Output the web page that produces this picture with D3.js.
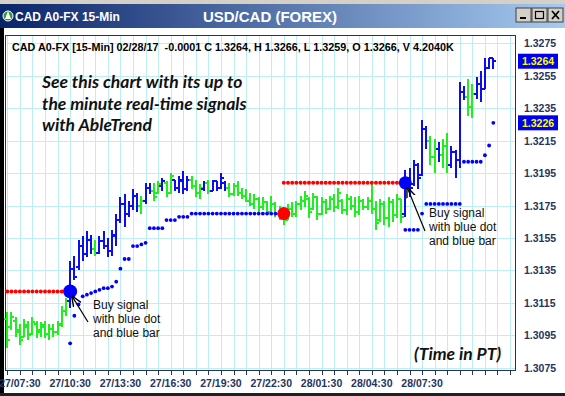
<!DOCTYPE html>
<html>
<head>
<meta charset="utf-8">
<script src="https://cdn.jsdelivr.net/npm/d3@7"></script>
<style>
  html, body { margin: 0; padding: 0; background: #fff; }
  svg { display: block; font-family: "Liberation Sans", Arial, sans-serif; }
</style>
</head>
<body>
<svg id="chart" width="565" height="396"></svg>
<script>
// 15-min USD/CAD bars, index 0 = 27/06:45
const opens = [
  1.3105, 1.3100, 1.3104, 1.3098, 1.3094, 1.3100, 1.3096, 1.3102, 1.3097, 1.3100,
  1.3096, 1.3099, 1.3097, 1.3101, 1.3110, 1.3116, 1.3136, 1.3137, 1.3150, 1.3145,
  1.3154, 1.3148, 1.3146, 1.3153, 1.3150, 1.3147, 1.3156, 1.3166, 1.3176, 1.3170,
  1.3175, 1.3181, 1.3175, 1.3178, 1.3186, 1.3184, 1.3183, 1.3187, 1.3189, 1.3183,
  1.3191, 1.3186, 1.3190, 1.3185, 1.3191, 1.3187, 1.3183, 1.3185, 1.3189, 1.3184,
  1.3190, 1.3186, 1.3189, 1.3186, 1.3182, 1.3187, 1.3183, 1.3181, 1.3178, 1.3176,
  1.3179, 1.3174, 1.3177, 1.3171, 1.3176, 1.3170, 1.3168, 1.3166, 1.3173, 1.3170,
  1.3176, 1.3178, 1.3179, 1.3173, 1.3180, 1.3170, 1.3177, 1.3173, 1.3179, 1.3174,
  1.3178, 1.3172, 1.3179, 1.3175, 1.3171, 1.3178, 1.3174, 1.3178, 1.3173, 1.3166,
  1.3176, 1.3167, 1.3177, 1.3169, 1.3179, 1.3170, 1.3192, 1.3188, 1.3200, 1.3194,
  1.3222, 1.3215, 1.3205, 1.3210, 1.3206, 1.3212, 1.3200, 1.3208, 1.3203, 1.3245,
  1.3242, 1.3236, 1.3244, 1.3250, 1.3247, 1.3260, 1.3266
];
const highs = [
  1.3109, 1.3109, 1.3106, 1.3102, 1.3105, 1.3104, 1.3106, 1.3104, 1.3103, 1.3104,
  1.3102, 1.3102, 1.3104, 1.3113, 1.3118, 1.3141, 1.3144, 1.3154, 1.3156, 1.3159,
  1.3157, 1.3154, 1.3156, 1.3159, 1.3155, 1.3160, 1.3170, 1.3180, 1.3182, 1.3178,
  1.3185, 1.3183, 1.3181, 1.3189, 1.3189, 1.3189, 1.3190, 1.3192, 1.3190, 1.3195,
  1.3191, 1.3193, 1.3196, 1.3193, 1.3193, 1.3191, 1.3188, 1.3190, 1.3191, 1.3191,
  1.3190, 1.3195, 1.3190, 1.3189, 1.3189, 1.3190, 1.3186, 1.3185, 1.3183, 1.3182,
  1.3180, 1.3180, 1.3178, 1.3181, 1.3177, 1.3175, 1.3174, 1.3176, 1.3177, 1.3178,
  1.3181, 1.3184, 1.3180, 1.3183, 1.3181, 1.3180, 1.3179, 1.3181, 1.3182, 1.3186,
  1.3179, 1.3182, 1.3181, 1.3180, 1.3181, 1.3179, 1.3180, 1.3188, 1.3178, 1.3179,
  1.3178, 1.3180, 1.3179, 1.3182, 1.3179, 1.3197, 1.3198, 1.3203, 1.3201, 1.3228,
  1.3224, 1.3218, 1.3216, 1.3214, 1.3216, 1.3220, 1.3212, 1.3209, 1.3251, 1.3249,
  1.3253, 1.3250, 1.3254, 1.3258, 1.3266, 1.3266, 1.3266
];
const lows = [
  1.3087, 1.3098, 1.3094, 1.3089, 1.3094, 1.3092, 1.3095, 1.3093, 1.3094, 1.3093,
  1.3092, 1.3094, 1.3095, 1.3100, 1.3107, 1.3112, 1.3129, 1.3135, 1.3141, 1.3143,
  1.3145, 1.3144, 1.3145, 1.3148, 1.3143, 1.3144, 1.3150, 1.3164, 1.3162, 1.3168,
  1.3172, 1.3171, 1.3170, 1.3176, 1.3182, 1.3178, 1.3182, 1.3184, 1.3180, 1.3182,
  1.3184, 1.3183, 1.3182, 1.3184, 1.3185, 1.3180, 1.3179, 1.3184, 1.3182, 1.3184,
  1.3184, 1.3185, 1.3184, 1.3180, 1.3181, 1.3181, 1.3179, 1.3177, 1.3175, 1.3173,
  1.3171, 1.3172, 1.3169, 1.3171, 1.3168, 1.3166, 1.3163, 1.3166, 1.3168, 1.3168,
  1.3172, 1.3174, 1.3167, 1.3172, 1.3166, 1.3169, 1.3170, 1.3172, 1.3171, 1.3173,
  1.3170, 1.3169, 1.3172, 1.3168, 1.3169, 1.3172, 1.3172, 1.3170, 1.3160, 1.3165,
  1.3163, 1.3162, 1.3165, 1.3167, 1.3164, 1.3168, 1.3180, 1.3187, 1.3185, 1.3193,
  1.3210, 1.3200, 1.3195, 1.3202, 1.3198, 1.3195, 1.3198, 1.3192, 1.3198, 1.3240,
  1.3230, 1.3229, 1.3241, 1.3239, 1.3247, 1.3259, 1.3259
];
const closes = [
  1.3092, 1.3106, 1.3097, 1.3092, 1.3101, 1.3095, 1.3103, 1.3098, 1.3101, 1.3096,
  1.3099, 1.3097, 1.3102, 1.3110, 1.3116, 1.3136, 1.3131, 1.3150, 1.3145, 1.3154,
  1.3148, 1.3146, 1.3153, 1.3150, 1.3147, 1.3157, 1.3166, 1.3176, 1.3170, 1.3175,
  1.3181, 1.3175, 1.3178, 1.3186, 1.3184, 1.3180, 1.3188, 1.3190, 1.3183, 1.3193,
  1.3186, 1.3191, 1.3185, 1.3191, 1.3187, 1.3183, 1.3186, 1.3189, 1.3184, 1.3190,
  1.3186, 1.3192, 1.3186, 1.3182, 1.3187, 1.3183, 1.3181, 1.3178, 1.3176, 1.3179,
  1.3174, 1.3177, 1.3171, 1.3176, 1.3170, 1.3168, 1.3166, 1.3173, 1.3170, 1.3176,
  1.3178, 1.3181, 1.3171, 1.3180, 1.3170, 1.3177, 1.3173, 1.3179, 1.3174, 1.3183,
  1.3172, 1.3179, 1.3175, 1.3171, 1.3178, 1.3174, 1.3178, 1.3173, 1.3164, 1.3176,
  1.3167, 1.3177, 1.3169, 1.3179, 1.3168, 1.3192, 1.3186, 1.3200, 1.3192, 1.3222,
  1.3215, 1.3205, 1.3210, 1.3206, 1.3212, 1.3200, 1.3208, 1.3203, 1.3245, 1.3242,
  1.3236, 1.3244, 1.3250, 1.3247, 1.3260, 1.3266, 1.3264
];
// b = blue (up) bar, g = green (neutral) bar
const barColors = (
  "ggggggggggggggg" +          // 0-14
  "bbbbbbgbbbbbbbbbb" +        // 15-31
  "gbbggbggbbbbgggbgbbbb" +    // 32-52
  "gggggggggg" + "gggggggggg" + "gggggggggg" + "gggggggggg" + "gg" + // 53-94
  "bbbbbbggbggbbbbggbbbbb"     // 95-116
).split("");

// AbleTrend stop dots: [bar, price]
const blueStops = [
  [15, 1.3090], [16, 1.3107], [17, 1.3114], [18, 1.3119], [19, 1.3120], [20, 1.3121],
  [21, 1.3122], [22, 1.3123], [23, 1.3124], [24, 1.3124], [25, 1.3125], [26, 1.3128],
  [27, 1.3136], [28, 1.3142], [29, 1.3142], [30, 1.3150], [31, 1.3150], [32, 1.3151],
  [33, 1.3152], [34, 1.3161], [35, 1.3161], [36, 1.3161], [37, 1.3161], [38, 1.3166],
  [39, 1.3166], [40, 1.3166], [41, 1.3168], [42, 1.3168], [43, 1.3168], [44, 1.3170],
  [45, 1.3170], [46, 1.3170], [47, 1.3170], [48, 1.3170], [49, 1.3170], [50, 1.3170],
  [51, 1.3170], [52, 1.3170], [53, 1.3170], [54, 1.3170], [55, 1.3170], [56, 1.3170],
  [57, 1.3170], [58, 1.3170], [59, 1.3170], [60, 1.3170], [61, 1.3170], [62, 1.3170],
  [63, 1.3170], [64, 1.3170], [65, 1.3170],
  [95, 1.3160], [96, 1.3160], [97, 1.3160], [98, 1.3160], [99, 1.3170], [100, 1.3176],
  [101, 1.3176], [102, 1.3176], [103, 1.3176], [104, 1.3176], [105, 1.3176], [106, 1.3176],
  [107, 1.3176], [108, 1.3176], [109, 1.3202], [110, 1.3202], [111, 1.3202], [112, 1.3202],
  [113, 1.3202], [114, 1.3206], [115, 1.3212], [116, 1.3226]
];
const redStops = [
  [0, 1.3122], [1, 1.3122], [2, 1.3122], [3, 1.3122], [4, 1.3122], [5, 1.3122], [6, 1.3122],
  [7, 1.3122], [8, 1.3122], [9, 1.3122], [10, 1.3122], [11, 1.3122], [12, 1.3122],
  [13, 1.3122], [14, 1.3122],
  [66, 1.3189], [67, 1.3189], [68, 1.3189], [69, 1.3189], [70, 1.3189], [71, 1.3189],
  [72, 1.3189], [73, 1.3189], [74, 1.3189], [75, 1.3189], [76, 1.3189], [77, 1.3189],
  [78, 1.3189], [79, 1.3189], [80, 1.3189], [81, 1.3189], [82, 1.3189], [83, 1.3189],
  [84, 1.3189], [85, 1.3189], [86, 1.3189], [87, 1.3189], [88, 1.3189], [89, 1.3189],
  [90, 1.3189], [91, 1.3189], [92, 1.3189], [93, 1.3189], [94, 1.3189]
];
const signals = [
  { bar: 15, price: 1.3122, kind: "buy" },
  { bar: 66, price: 1.3170, kind: "sell" },
  { bar: 95, price: 1.3189, kind: "buy" }
];

const xTickBars = [3, 15, 27, 39, 51, 63, 75, 87, 99];
const xTickLabels = ["27/07:30", "27/10:30", "27/13:30", "27/16:30", "27/19:30",
                     "27/22:30", "28/01:30", "28/04:30", "28/07:30"];
const yTicks = [1.3075, 1.3095, 1.3115, 1.3135, 1.3155, 1.3175, 1.3195,
                1.3215, 1.3235, 1.3255, 1.3275];
const priceTags = [1.3264, 1.3226];

const infoLine = "CAD A0-FX [15-Min] 02/28/17  -0.0001 C 1.3264, H 1.3266, L 1.3259, O 1.3266, V 4.2040K";
const noteLines = ["See this chart with its up to", "the minute real-time signals", "with AbleTrend"];
const buyLines = ["Buy signal", "with blue dot", "and blue bar"];

const BLUE = "#0c0cf0", GREEN = "#1ef01e", RED = "#ff0000", NAVY = "#24345e";
const plot = { left: 5, right: 515, top: 35, bottom: 370 };

const svg = d3.select('#chart');

let x = d3.scaleLinear()
    .domain([0, 116])
    .range([7.3, 493.3]);

let y = d3.scaleLinear()
    .domain([1.3075, 1.3275])
    .range([367.6, 43.4]);

// window chrome
svg.append('rect').attr('width', 565).attr('height', 396).attr('fill', '#fff')
svg.append('rect').attr('width', 565).attr('height', 4).attr('fill', '#d4d0c8')

let grad = svg.append('defs').append('linearGradient').attr('id', 'titleGrad')
grad.append('stop').attr('offset', '0%').attr('stop-color', '#0a246a')
grad.append('stop').attr('offset', '100%').attr('stop-color', '#a6caf0')
svg.append('rect').attr('y', 4).attr('width', 565).attr('height', 24).attr('fill', 'url(#titleGrad)')
svg.append('rect').attr('y', 28).attr('width', 4).attr('height', 368).attr('fill', '#000')
svg.append('rect').attr('y', 393).attr('width', 565).attr('height', 3).attr('fill', '#202020')

// title icon
svg.append('circle').attr('cx', 8).attr('cy', 16).attr('r', 5).attr('fill', '#2a9a3a').attr('stroke', '#fff')
svg.append('path').attr('d', 'M5,19 L8,11 L11,19 Z').attr('fill', '#fff')

svg.append('text')
    .attr('x', 15).attr('y', 20.5)
    .attr('fill', '#fff').attr('font-weight', 'bold').attr('font-size', 12)
    .text("CAD A0-FX 15-Min")
svg.append('text')
    .attr('x', 270).attr('y', 22)
    .attr('text-anchor', 'middle')
    .attr('fill', '#fff').attr('font-weight', 'bold').attr('font-size', 15)
    .text("USD/CAD (FOREX)")

// min / max / close buttons
const btn = svg.append('g')
;[516, 532, 548].forEach((bx, k) => {
    btn.append('rect').attr('x', bx).attr('y', 8).attr('width', 15).attr('height', 14)
        .attr('fill', '#d4d0c8').attr('stroke', '#404040').attr('stroke-width', 1)
    if (k === 0) btn.append('rect').attr('x', bx + 4).attr('y', 17).attr('width', 6).attr('height', 2).attr('fill', '#000')
    if (k === 1) btn.append('rect').attr('x', bx + 3.5).attr('y', 11.5).attr('width', 8).attr('height', 7)
        .attr('fill', 'none').attr('stroke', '#000').attr('stroke-width', 1.2)
    if (k === 2) btn.append('path').attr('d', `M${bx + 4},11 L${bx + 11},19 M${bx + 11},11 L${bx + 4},19`)
        .attr('stroke', '#000').attr('stroke-width', 1.8)
})

// grid
const gridBars = d3.range(0, 121, 3).filter(b => x(b) < plot.right)
svg.append('g').selectAll('line.vg')
    .data(gridBars)
    .enter()
    .append('line')
    .attr('x1', d => Math.round(x(d)) + 0.5).attr('x2', d => Math.round(x(d)) + 0.5)
    .attr('y1', plot.top).attr('y2', plot.bottom)
    .attr('stroke', '#bdeff0')
svg.append('g').selectAll('line.hg')
    .data(yTicks)
    .enter()
    .append('line')
    .attr('x1', plot.left).attr('x2', plot.right)
    .attr('y1', d => Math.round(y(d)) + 0.5).attr('y2', d => Math.round(y(d)) + 0.5)
    .attr('stroke', '#bdeff0')

svg.append('rect')
    .attr('x', plot.left + 0.5).attr('y', plot.top + 0.5)
    .attr('width', plot.right - plot.left).attr('height', plot.bottom - plot.top)
    .attr('fill', 'none').attr('stroke', NAVY)

// x axis ticks + labels
svg.append('g').selectAll('line')
    .data(gridBars)
    .enter()
    .append('line')
    .attr('x1', d => Math.round(x(d)) + 0.5).attr('x2', d => Math.round(x(d)) + 0.5)
    .attr('y1', plot.bottom).attr('y2', plot.bottom + 5)
    .attr('stroke', NAVY)
svg.append('g').selectAll('text')
    .data(xTickBars)
    .enter()
    .append('text')
    .attr('x', d => x(d)).attr('y', 387)
    .attr('text-anchor', 'middle')
    .attr('font-size', 10.5).attr('font-weight', 'bold').attr('fill', NAVY)
    .text((d, i) => xTickLabels[i])

// y labels (right side)
svg.append('g').selectAll('text')
    .data(yTicks)
    .enter()
    .append('text')
    .attr('x', 524).attr('y', d => y(d) + 4)
    .attr('font-size', 10.5).attr('font-weight', 'bold').attr('fill', NAVY)
    .text(d => d.toFixed(4))

const tags = svg.append('g').selectAll('g')
    .data(priceTags)
    .enter()
    .append('g')
tags.append('rect')
    .attr('x', 518).attr('y', d => y(d) - 7.5)
    .attr('width', 40).attr('height', 15)
    .attr('fill', '#0000f0')
tags.append('text')
    .attr('x', 522).attr('y', d => y(d) + 4)
    .attr('font-size', 10.5).attr('font-weight', 'bold').attr('fill', '#ffff00')
    .text(d => d.toFixed(4))

// info line
svg.append('text')
    .attr('x', 12).attr('y', 51)
    .attr('font-size', 10.8).attr('font-weight', 'bold').attr('fill', '#000')
    .attr('xml:space', 'preserve')
    .text(infoLine)

// OHLC bars
const bars = svg.append('g').attr('shape-rendering', 'crispEdges')
bars.selectAll('path')
    .data(d3.range(opens.length))
    .enter()
    .append('path')
    .attr('d', i => {
        let cx = x(i)
        return `M${cx},${y(highs[i])} V${y(lows[i])} M${cx - 3},${y(opens[i])} H${cx} M${cx},${y(closes[i])} H${cx + 3}`
    })
    .attr('stroke', i => barColors[i] === 'b' ? BLUE : GREEN)
    .attr('stroke-width', 2)
    .attr('fill', 'none')

// stop dots
svg.append('g').selectAll('circle')
    .data(blueStops)
    .enter()
    .append('circle')
    .attr('cx', d => x(d[0])).attr('cy', d => y(d[1]))
    .attr('r', 1.9).attr('fill', '#0000ff')
svg.append('g').selectAll('circle')
    .data(redStops)
    .enter()
    .append('circle')
    .attr('cx', d => x(d[0])).attr('cy', d => y(d[1]))
    .attr('r', 2).attr('fill', RED)

// signal dots
svg.append('g').selectAll('circle')
    .data(signals)
    .enter()
    .append('circle')
    .attr('cx', d => x(d.bar)).attr('cy', d => y(d.price))
    .attr('r', (d, i) => i === 0 ? 7 : 6.5)
    .attr('fill', d => d.kind === 'buy' ? '#0000ff' : RED)

// annotations
svg.append('defs').append('marker')
    .attr('id', 'arrow')
    .attr('viewBox', '0 0 10 10').attr('refX', 9).attr('refY', 5)
    .attr('markerWidth', 9).attr('markerHeight', 9)
    .attr('orient', 'auto')
    .append('path').attr('d', 'M0,1 L10,5 L0,9').attr('fill', 'none').attr('stroke', '#000').attr('stroke-width', 1.3)

const buyNotes = [
    { sig: signals[0], tx: 93, ty: 309, ax: 88, ay: 322 },
    { sig: signals[2], tx: 429, ty: 217, ax: 425, ay: 231 }
]
buyNotes.forEach(n => {
    let tipX = x(n.sig.bar) + 2, tipY = y(n.sig.price) + 5
    svg.append('line')
        .attr('x1', n.ax).attr('y1', n.ay).attr('x2', tipX).attr('y2', tipY)
        .attr('stroke', '#000').attr('stroke-width', 1.2)
        .attr('marker-end', 'url(#arrow)')
    svg.append('text')
        .attr('x', n.tx).attr('y', n.ty)
        .attr('font-size', 12).attr('fill', '#111')
        .selectAll('tspan')
        .data(buyLines)
        .enter()
        .append('tspan')
        .attr('x', n.tx).attr('dy', (d, i) => i === 0 ? 0 : 14)
        .text(d => d)
})

svg.append('text')
    .attr('x', 42).attr('y', 88)
    .attr('font-family', 'Lato, "Open Sans", sans-serif')
    .attr('font-size', 17.5).attr('font-weight', 'bold').attr('font-style', 'italic')
    .attr('fill', '#111')
    .selectAll('tspan')
    .data(noteLines)
    .enter()
    .append('tspan')
    .attr('x', 42).attr('dy', (d, i) => i === 0 ? 0 : 21.5)
    .text(d => d)

svg.append('text')
    .attr('x', 414).attr('y', 360)
    .attr('font-family', 'Lato, "Open Sans", sans-serif')
    .attr('font-size', 17.5).attr('font-weight', 'bold').attr('font-style', 'italic')
    .attr('fill', '#111')
    .text("(Time in PT)")
</script>
</body>
</html>
